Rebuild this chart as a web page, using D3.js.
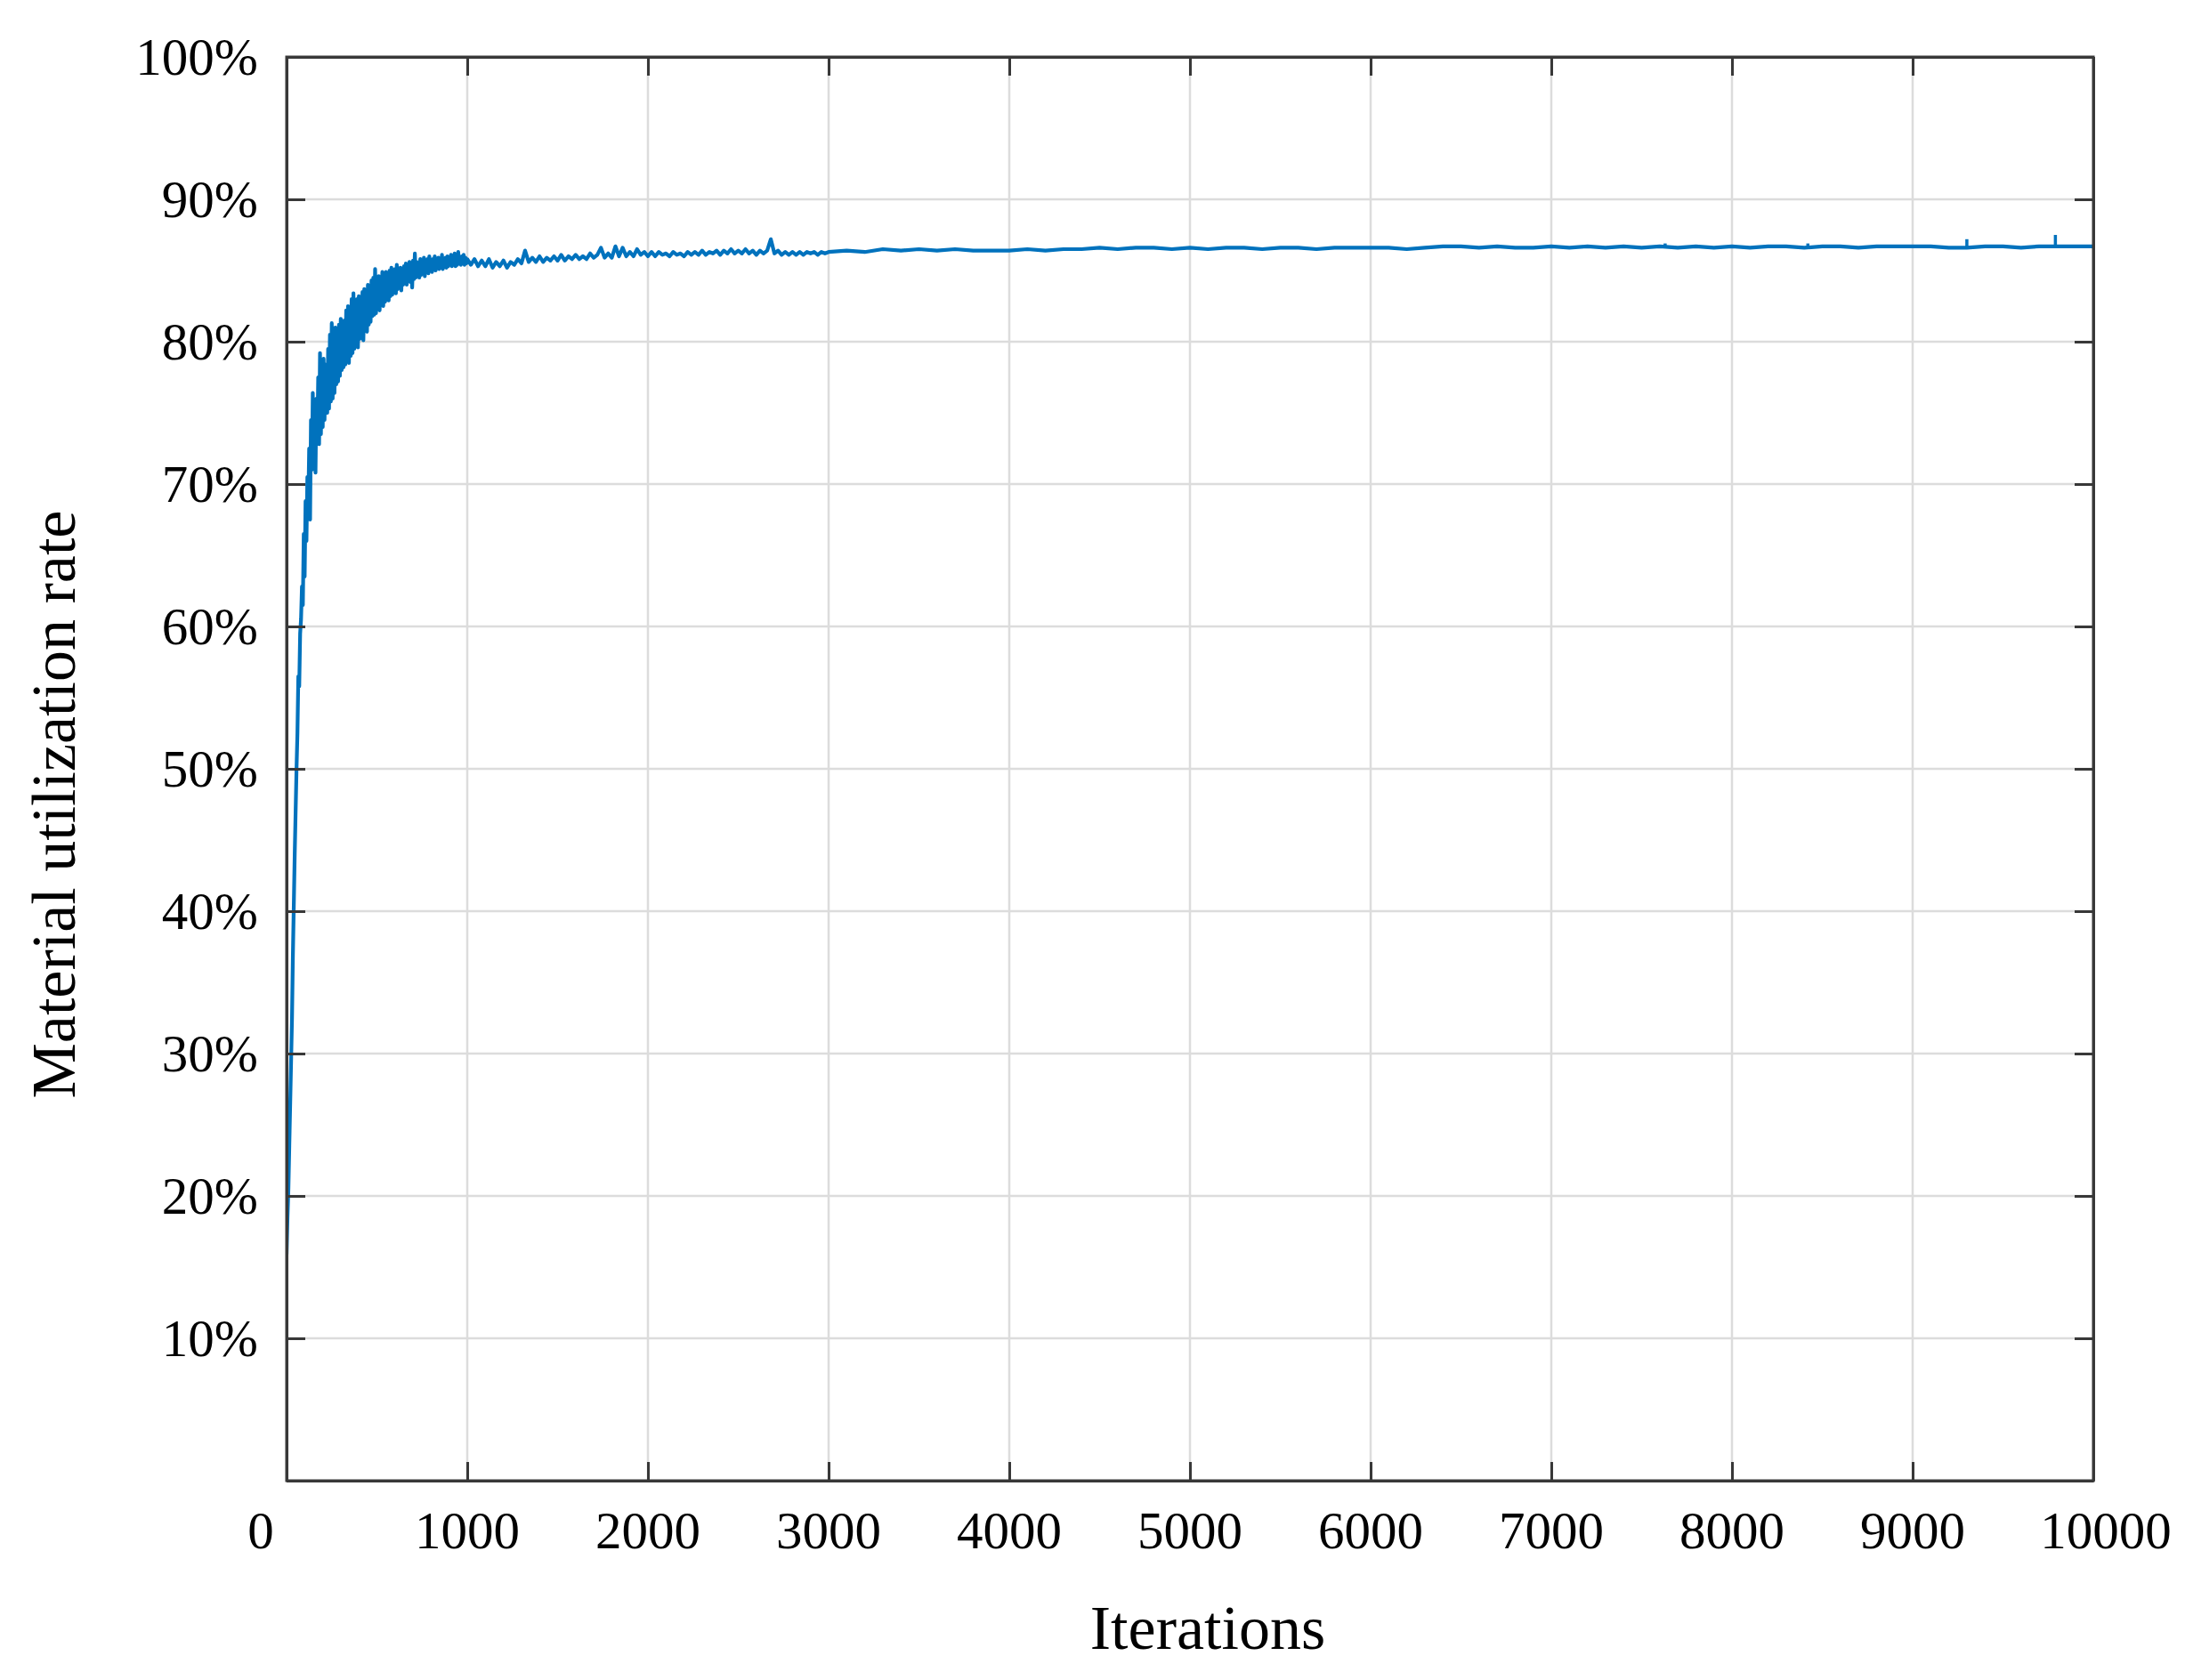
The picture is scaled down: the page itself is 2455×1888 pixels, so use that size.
<!DOCTYPE html>
<html>
<head>
<meta charset="utf-8">
<script src="https://cdn.jsdelivr.net/npm/d3@7"></script>
<style>
  html, body { margin: 0; padding: 0; background: #ffffff; }
  svg { display: block; }
  text { font-family: "Liberation Serif", "Times New Roman", serif; fill: #000; }
</style>
</head>
<body>
<script>
// ---------------- data ----------------
// Early phase: one value every 5 iterations, iterations 0..1000
const earlyStep = 5;
const earlyValues = [
  15.9, 18.5, 20.5, 23.5, 26.5, 29.5, 32.5, 37.0, 40.5, 44.0,
  47.0, 50.0, 52.5, 56.5, 55.8, 59.5, 60.5, 62.8, 61.5, 66.5,
  63.5, 68.8, 66.0, 70.5, 68.5, 72.5, 67.5, 74.5, 71.0, 76.4,
  71.5, 75.5, 70.8, 76.0, 73.0, 77.5, 72.8, 79.2, 73.5, 77.3,
  74.0, 78.8, 74.5, 77.5, 78.4, 75.0, 79.5, 75.3, 80.5, 75.8,
  81.3, 76.0, 80.8, 76.4, 81.0, 77.0, 80.5, 77.2, 81.2, 77.6,
  81.6, 78.0, 80.8, 78.2, 81.5, 78.4, 82.2, 78.6, 82.5, 78.5,
  82.0, 79.0, 83.0, 79.2, 83.4, 79.5, 82.6, 79.8, 83.0, 79.6,
  83.2, 80.2, 82.8, 80.4, 83.5, 80.1, 83.7, 80.8, 83.3, 80.7,
  84.0, 81.2, 83.6, 81.4, 84.3, 81.8, 84.5, 81.9, 85.1, 82.0,
  84.2, 82.3, 84.6, 82.2, 84.4, 82.6, 84.9, 82.5, 84.5, 82.8,
  84.9, 83.0, 84.7, 82.9, 85.0, 83.2, 85.2, 83.3, 84.8, 83.5,
  85.1, 83.4, 85.4, 83.7, 84.9, 83.8, 85.2, 83.6, 85.1, 84.0,
  85.3, 84.1, 85.5, 84.0, 85.2, 84.3, 85.6, 84.2, 85.3, 83.8,
  85.7, 84.4, 86.2, 84.5, 85.6, 84.6, 85.5, 84.5, 85.8, 84.7,
  85.6, 84.8, 85.9, 84.6, 85.7, 84.9, 85.8, 84.8, 86.0, 85.0,
  85.6, 84.9, 85.8, 85.1, 86.0, 85.0, 85.6, 85.2, 85.9, 85.1,
  85.7, 85.2, 86.1, 85.1, 85.8, 85.3, 85.9, 85.2, 86.0, 85.3,
  85.7, 85.4, 86.1, 85.3, 85.8, 85.4, 86.2, 85.3, 85.9, 85.4,
  86.3, 85.5, 85.9, 85.4, 86.0, 85.5, 86.1, 85.4, 85.9, 85.5,
  85.8
];

// Middle phase: one value every 20 iterations, iterations 1020..3000
const middleStart = 1020;
const middleStep = 20;
const middleValues = [
  85.4, 85.8, 85.3, 85.7, 85.3, 85.8, 85.2, 85.6, 85.3, 85.7,
  85.2, 85.6, 85.4, 85.8, 85.5, 86.4, 85.6, 85.9, 85.6, 86.0,
  85.6, 85.9, 85.7, 86.0, 85.7, 86.1, 85.7, 86.0, 85.8, 86.1,
  85.8, 86.0, 85.8, 86.2, 85.9, 86.1, 86.6, 85.9, 86.2, 85.9,
  86.7, 86.0, 86.6, 86.0, 86.3, 86.0, 86.5, 86.1, 86.3, 86.0,
  86.3, 86.0, 86.3, 86.1, 86.2, 86.0, 86.3, 86.1, 86.2, 86.0,
  86.3, 86.1, 86.3, 86.1, 86.4, 86.1, 86.3, 86.2, 86.4, 86.1,
  86.4, 86.2, 86.5, 86.2, 86.4, 86.2, 86.5, 86.2, 86.4, 86.1,
  86.4, 86.2, 86.4, 87.2, 86.2, 86.4, 86.1, 86.3, 86.1, 86.3,
  86.1, 86.3, 86.1, 86.3, 86.2, 86.3, 86.1, 86.3, 86.2, 86.3
];

// Late phase: one value every 100 iterations, iterations 3100..10000
const lateStart = 3100;
const lateStep = 100;
const lateValues = [
  86.4, 86.3, 86.5, 86.4, 86.5, 86.4, 86.5, 86.4, 86.4, 86.4,
  86.5, 86.4, 86.5, 86.5, 86.6, 86.5, 86.6, 86.6, 86.5, 86.6,
  86.5, 86.6, 86.6, 86.5, 86.6, 86.6, 86.5, 86.6, 86.6, 86.6,
  86.6, 86.5, 86.6, 86.7, 86.7, 86.6, 86.7, 86.6, 86.6, 86.7,
  86.6, 86.7, 86.6, 86.7, 86.6, 86.7, 86.6, 86.7, 86.6, 86.7,
  86.6, 86.7, 86.7, 86.6, 86.7, 86.7, 86.6, 86.7, 86.7, 86.7,
  86.7, 86.6, 86.6, 86.7, 86.7, 86.6, 86.7, 86.7, 86.7, 86.7
];

// Isolated single-iteration spikes in the late phase
const spikeIters  = [7630, 8420, 9300, 9790];
const spikeBase   = [86.65, 86.65, 86.6, 86.7];
const spikePeak   = [86.9, 86.9, 87.2, 87.5];

// Axis ticks
const xTicks = [0, 1000, 2000, 3000, 4000, 5000, 6000, 7000, 8000, 9000, 10000];
const yTicks = [10, 20, 30, 40, 50, 60, 70, 80, 90, 100];
const xTitle = "Iterations";
const yTitle = "Material utilization rate";

// ---------------- build series ----------------
const series = [];
earlyValues.forEach((v, i) => series.push([i * earlyStep, v]));
middleValues.forEach((v, i) => series.push([middleStart + i * middleStep, v]));
lateValues.forEach((v, i) => series.push([lateStart + i * lateStep, v]));

// ---------------- layout ----------------
const W = 2455, H = 1888;
const L = 322, R = 2352, T = 64, B = 1664;

const svg = d3.select("body").append("svg")
  .attr("width", W).attr("height", H)
  .attr("viewBox", `0 0 ${W} ${H}`);
svg.append("rect").attr("width", W).attr("height", H).attr("fill", "#ffffff");

const x = d3.scaleLinear().domain([0, 10000]).range([L, R]);
const y = d3.scaleLinear().domain([0, 100]).range([B, T]);

// grid
const grid = svg.append("g");
grid.selectAll("line.gx").data(xTicks.filter(t => t > 0 && t < 10000)).join("line")
  .attr("x1", d => x(d)).attr("x2", d => x(d))
  .attr("y1", T).attr("y2", B)
  .attr("stroke", "#dcdcdc").attr("stroke-width", 2.5);
grid.selectAll("line.gy").data(yTicks.filter(t => t < 100)).join("line")
  .attr("x1", L).attr("x2", R)
  .attr("y1", d => y(d)).attr("y2", d => y(d))
  .attr("stroke", "#dcdcdc").attr("stroke-width", 2.5);

// data line
const clipId = "plotclip";
svg.append("clipPath").attr("id", clipId).append("rect")
  .attr("x", L).attr("y", T).attr("width", R - L).attr("height", B - T);

const line = d3.line().x(d => x(d[0])).y(d => y(d[1]));
svg.append("path")
  .datum(series)
  .attr("d", line)
  .attr("fill", "none")
  .attr("stroke", "#0072BD")
  .attr("stroke-width", 4.2)
  .attr("stroke-linejoin", "round")
  .attr("clip-path", `url(#${clipId})`);

svg.append("g").selectAll("line").data(spikeIters).join("line")
  .attr("x1", d => x(d)).attr("x2", d => x(d))
  .attr("y1", (d, i) => y(spikeBase[i])).attr("y2", (d, i) => y(spikePeak[i]))
  .attr("stroke", "#0072BD").attr("stroke-width", 3.5);

// axes (MATLAB-like box with inward ticks on all four sides)
const axisColor = "#383838";
const tickLen = 21;
const axB = svg.append("g").attr("transform", `translate(0,${B})`)
  .call(d3.axisBottom(x).tickValues(xTicks).tickSizeInner(-tickLen).tickSizeOuter(0).tickFormat(""));
const axT = svg.append("g").attr("transform", `translate(0,${T})`)
  .call(d3.axisTop(x).tickValues(xTicks).tickSizeInner(-tickLen).tickSizeOuter(0).tickFormat(""));
const axL = svg.append("g").attr("transform", `translate(${L},0)`)
  .call(d3.axisLeft(y).tickValues([0].concat(yTicks)).tickSizeInner(-tickLen).tickSizeOuter(0).tickFormat(""));
const axR = svg.append("g").attr("transform", `translate(${R},0)`)
  .call(d3.axisRight(y).tickValues([0].concat(yTicks)).tickSizeInner(-tickLen).tickSizeOuter(0).tickFormat(""));
[axB, axT, axL, axR].forEach(g => {
  g.select(".domain").attr("stroke", axisColor).attr("stroke-width", 3);
  g.selectAll(".tick line").attr("stroke", axisColor).attr("stroke-width", 3);
});
svg.append("rect").attr("x", L).attr("y", T).attr("width", R - L).attr("height", B - T)
  .attr("fill", "none").attr("stroke", axisColor).attr("stroke-width", 3);

// tick labels
const tickFont = 59;
const xLabelShift = d => (d === 0 ? -29 : d === 10000 ? 14 : 0);
svg.append("g").selectAll("text").data(xTicks).join("text")
  .attr("x", d => x(d) + xLabelShift(d))
  .attr("y", 1740)
  .attr("text-anchor", "middle")
  .attr("font-size", tickFont)
  .text(d => String(d));

svg.append("g").selectAll("text").data(yTicks).join("text")
  .attr("x", 290)
  .attr("y", d => y(d) + 20)
  .attr("text-anchor", "end")
  .attr("font-size", tickFont)
  .text(d => d + "%");

// axis titles
svg.append("text")
  .attr("x", 1357).attr("y", 1853)
  .attr("text-anchor", "middle")
  .attr("font-size", 70)
  .text(xTitle);

svg.append("text")
  .attr("transform", "translate(84,904) rotate(-90)")
  .attr("text-anchor", "middle")
  .attr("font-size", 70)
  .text(yTitle);
</script>
</body>
</html>
